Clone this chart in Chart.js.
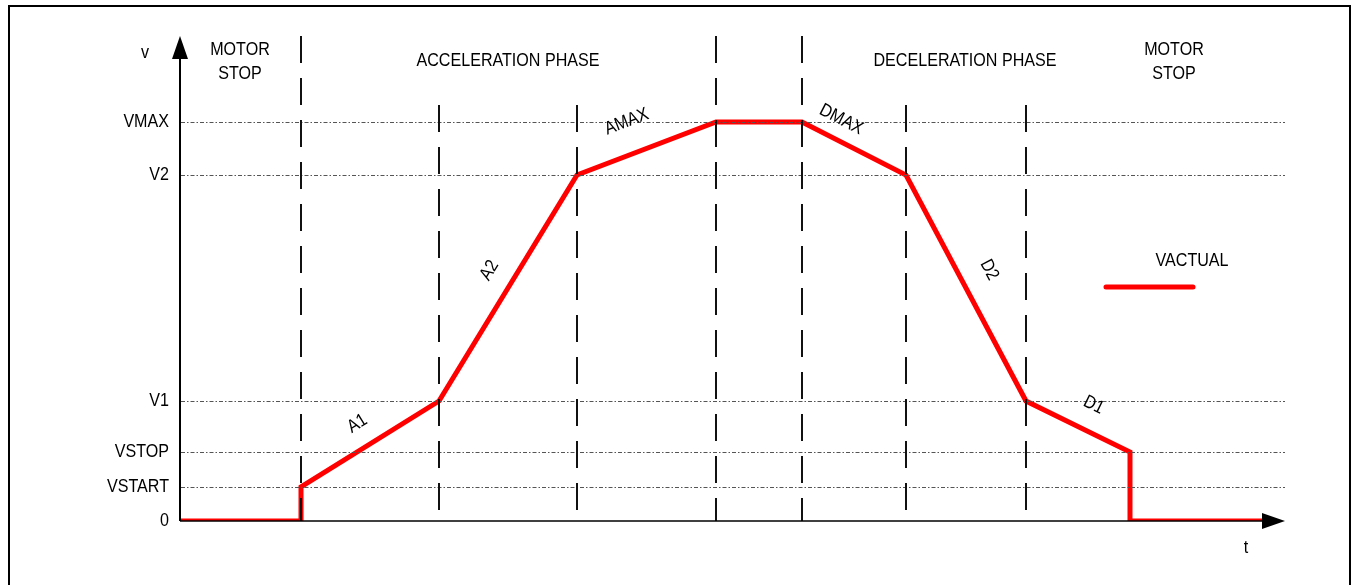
<!DOCTYPE html>
<html>
<head>
<meta charset="utf-8">
<script src="https://cdn.jsdelivr.net/npm/chart.js@4.4.1/dist/chart.umd.min.js"></script>
<style>
  html, body { margin: 0; padding: 0; background: #fff; }
  #wrap { width: 1353px; height: 585px; }
</style>
</head>
<body>
<div id="wrap"><canvas id="graph" width="1353" height="585"></canvas></div>
<script>
// -------------------------
// DATA (time in arbitrary units, velocity levels)
// -------------------------
const times    = [0, 12.1, 12.1, 25.9, 39.7, 53.6, 62.2, 72.6, 84.6, 95.0, 95.0, 108.2];
const velocity = [0, 0,    3.4,  12.0, 34.6, 39.9, 39.9, 34.6, 12.0, 6.9,  0,    0];

const levelNames  = ["0", "VSTART", "VSTOP", "V1", "V2", "VMAX"];
const levelValues = [0, 3.4, 6.9, 12.0, 34.6, 39.9];

const boundaries   = [12.1, 25.9, 39.7, 53.6, 62.2, 72.6, 84.6];
const boundaryTall = [true, false, false, true, true, false, false];

const rampNames = ["A1", "A2", "AMAX", "DMAX", "D2", "D1"];
const rampStart = [2, 3, 4, 6, 7, 8];   // point index where each ramp begins

const phaseNames   = [["MOTOR", "STOP"], ["ACCELERATION PHASE"], ["DECELERATION PHASE"], ["MOTOR", "STOP"]];
const phaseCenters = [6.0, 32.8, 78.5, 99.4];

// -------------------------
// TEXT HELPER (narrow Arial look)
// -------------------------
const FONT = "18.5px 'Liberation Sans', Arial, sans-serif";

function txt(ctx, s, x, y, align, rot) {
  ctx.save();
  ctx.translate(x, y);
  if (rot) ctx.rotate(rot);
  ctx.scale(0.87, 1);
  ctx.font = FONT;
  ctx.fillStyle = "#000";
  ctx.textAlign = align || "center";
  ctx.textBaseline = "middle";
  ctx.fillText(s, 0, 0);
  ctx.restore();
}

// -------------------------
// DECORATION PLUGIN
// -------------------------
const decor = {
  id: "decor",
  beforeDraw(chart) {
    const ctx = chart.ctx;
    ctx.save();
    ctx.fillStyle = "#fff";
    ctx.fillRect(0, 0, chart.width, chart.height);
    ctx.strokeStyle = "#000";
    ctx.lineWidth = 2;
    ctx.strokeRect(9, 6, 1341, 620);
    ctx.restore();
  },
  afterDatasetsDraw(chart) {
    const ctx = chart.ctx;
    const xs = chart.scales.x, ys = chart.scales.y;
    const a = chart.chartArea;
    const y0 = ys.getPixelForValue(0);

    // dash-dot level lines
    ctx.save();
    ctx.strokeStyle = "#555";
    ctx.lineWidth = 1;
    ctx.setLineDash([4, 2, 1.5, 2]);
    levelValues.forEach(v => {
      if (v === 0) return;
      const y = Math.round(ys.getPixelForValue(v)) + 0.5;
      ctx.beginPath();
      ctx.moveTo(a.left + 1, y);
      ctx.lineTo(a.right, y);
      ctx.stroke();
    });
    ctx.restore();

    // phase boundaries
    ctx.save();
    ctx.strokeStyle = "#111";
    ctx.lineWidth = 2;
    ctx.setLineDash([27, 15]);
    const shortTop = ys.getPixelForValue(levelValues[5]) - 17;
    boundaries.forEach((t, i) => {
      const x = Math.round(xs.getPixelForValue(t));
      ctx.beginPath();
      ctx.moveTo(x, boundaryTall[i] ? a.top : shortTop);
      ctx.lineTo(x, y0);
      ctx.stroke();
    });
    ctx.restore();

    // axes with arrows
    ctx.save();
    ctx.strokeStyle = "#000";
    ctx.fillStyle = "#000";
    ctx.lineWidth = 2;
    ctx.beginPath();
    ctx.moveTo(a.left, y0);
    ctx.lineTo(a.left, a.top + 20);
    ctx.stroke();
    ctx.lineWidth = 1.5;
    ctx.beginPath();
    ctx.moveTo(a.left, y0);
    ctx.lineTo(a.right - 20, y0);
    ctx.stroke();
    ctx.beginPath();
    ctx.moveTo(a.left, a.top);
    ctx.lineTo(a.left - 8, a.top + 23);
    ctx.lineTo(a.left + 8, a.top + 23);
    ctx.closePath();
    ctx.fill();
    ctx.beginPath();
    ctx.moveTo(a.right, y0);
    ctx.lineTo(a.right - 23, y0 - 8);
    ctx.lineTo(a.right - 23, y0 + 8);
    ctx.closePath();
    ctx.fill();
    ctx.restore();

    // level labels
    levelNames.forEach((n, i) => {
      txt(ctx, n, a.left - 11, ys.getPixelForValue(levelValues[i]), "right");
    });
    txt(ctx, "v", a.left - 35, a.top + 17);
    txt(ctx, "t", a.right - 39, y0 + 27);

    // phase titles
    phaseNames.forEach((lines, i) => {
      const x = xs.getPixelForValue(phaseCenters[i]);
      if (lines.length === 1) {
        txt(ctx, lines[0], x, 61);
      } else {
        txt(ctx, lines[0], x, 50);
        txt(ctx, lines[1], x, 74);
      }
    });

    // ramp labels along the segments
    const along = [0.5, 0.52, 0.44, 0.29, 0.48, 0.54];
    const gap   = [24, 25, 32, 20, 29, 26];
    rampNames.forEach((n, i) => {
      const k = rampStart[i];
      const x1 = xs.getPixelForValue(times[k]), y1 = ys.getPixelForValue(velocity[k]);
      const x2 = xs.getPixelForValue(times[k + 1]), y2 = ys.getPixelForValue(velocity[k + 1]);
      const dx = x2 - x1, dy = y2 - y1, len = Math.hypot(dx, dy);
      const nx = dy / len, ny = -dx / len;
      const px = x1 + dx * along[i] + nx * gap[i];
      const py = y1 + dy * along[i] + ny * gap[i];
      txt(ctx, n, px, py, "center", Math.atan2(dy, dx));
    });

    // legend
    const ds = chart.data.datasets[0];
    txt(ctx, ds.label, 1192, 261);
    ctx.save();
    ctx.strokeStyle = ds.borderColor;
    ctx.lineWidth = 5;
    ctx.lineCap = "round";
    ctx.beginPath();
    ctx.moveTo(1106, 287);
    ctx.lineTo(1193, 287);
    ctx.stroke();
    ctx.restore();
  }
};

// -------------------------
// INIT CHART
// -------------------------
const ctx = document.getElementById("graph").getContext("2d");

const chart = new Chart(ctx, {
  type: "line",
  data: {
    datasets: [{
      label: "VACTUAL",
      data: times.map((t, i) => ({ x: t, y: velocity[i] })),
      borderColor: "#ff0000",
      borderWidth: 5,
      pointRadius: 0,
      tension: 0,
      fill: false
    }]
  },
  options: {
    responsive: false,
    animation: false,
    devicePixelRatio: 1,
    layout: { padding: { left: 180, right: 68, top: 36, bottom: 64 } },
    scales: {
      x: { type: "linear", min: 0, max: 110.5, display: false },
      y: { type: "linear", min: 0, max: 48.5, display: false }
    },
    plugins: {
      legend: { display: false },
      tooltip: { enabled: false }
    }
  },
  plugins: [decor]
});
</script>
</body>
</html>
